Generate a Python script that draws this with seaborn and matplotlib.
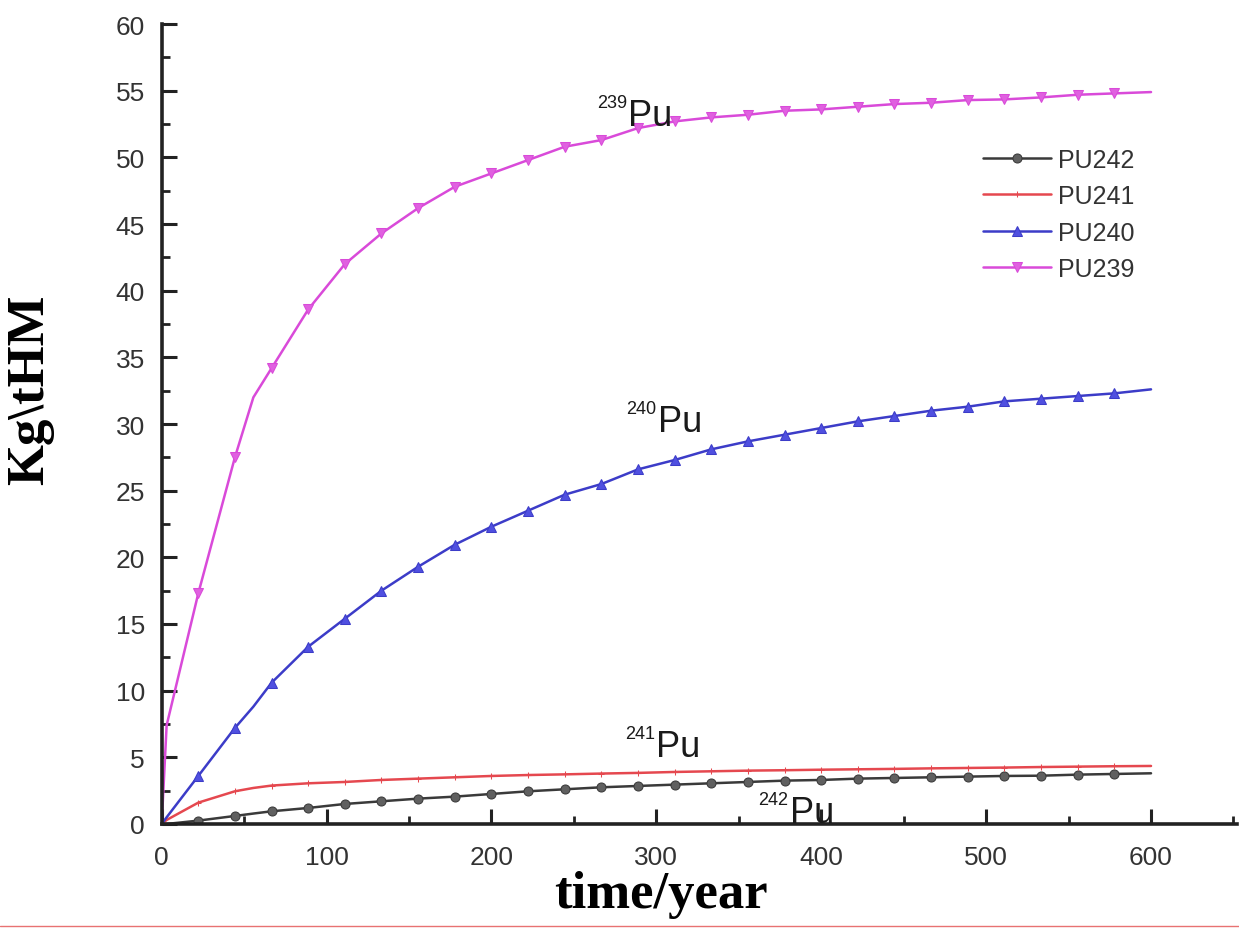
import numpy as np
import pandas as pd
import matplotlib
matplotlib.use("Agg")
import matplotlib.pyplot as plt
from matplotlib.lines import Line2D
import seaborn as sns

# ---------------- data ----------------
time = [0, 3, 22.2, 44.4, 55.6, 66.7, 88.9, 111.1, 133.3, 155.6, 177.8, 200.0,
        222.2, 244.4, 266.7, 288.9, 311.1, 333.3, 355.6, 377.8, 400.0, 422.2,
        444.4, 466.7, 488.9, 511.1, 533.3, 555.6, 577.8, 600.0]

pu239 = [0, 7.4, 17.3, 27.5, 32.0, 34.2, 38.6, 42.0, 44.3, 46.2, 47.8, 48.8,
         49.8, 50.8, 51.3, 52.2, 52.7, 53.0, 53.2, 53.5, 53.6, 53.8,
         54.0, 54.1, 54.3, 54.35, 54.5, 54.7, 54.8, 54.9]
pu240 = [0, 0.5, 3.6, 7.2, 8.8, 10.6, 13.3, 15.4, 17.5, 19.3, 20.95, 22.3,
         23.5, 24.7, 25.5, 26.6, 27.3, 28.1, 28.7, 29.2, 29.7, 30.2,
         30.6, 31.0, 31.3, 31.7, 31.9, 32.1, 32.3, 32.6]
pu241 = [0, 0.3, 1.6, 2.45, 2.7, 2.88, 3.05, 3.15, 3.3, 3.4, 3.5, 3.6,
         3.67, 3.72, 3.78, 3.83, 3.9, 3.95, 4.0, 4.03, 4.07, 4.1,
         4.13, 4.17, 4.2, 4.23, 4.27, 4.3, 4.33, 4.35]
pu242 = [0, 0.0, 0.25, 0.6, 0.78, 0.95, 1.2, 1.5, 1.7, 1.9, 2.05, 2.25,
         2.45, 2.6, 2.75, 2.85, 2.95, 3.05, 3.15, 3.25, 3.3, 3.4,
         3.45, 3.5, 3.55, 3.6, 3.62, 3.7, 3.75, 3.8]

series_names = ["PU242", "PU241", "PU240", "PU239"]
mass_numbers = ["242", "241", "240", "239"]
label_pos = [(381, 0.15), (300, 5.1), (301, 29.5), (283, 52.4)]

x_ticks = [0, 100, 200, 300, 400, 500, 600]
y_ticks = [0, 5, 10, 15, 20, 25, 30, 35, 40, 45, 50, 55, 60]

# ---------------- style ----------------
sns.set_theme(style="white")
plt.rcParams["font.family"] = ["Liberation Sans", "DejaVu Sans"]

fig = plt.figure(figsize=(12.39, 9.29), dpi=100)
ax = fig.add_axes([0.1305, 0.112, 0.8677, 0.861])

df = pd.DataFrame({"time": time, "PU239": pu239, "PU240": pu240,
                   "PU241": pu241, "PU242": pu242})
mark_idx = [i for i, t in enumerate(time) if t not in (0, 3, 55.6, 600.0)]

styles = {
    "PU242": dict(color="#3a3a3a", marker="o", markersize=6.5,
                  markerfacecolor="#606060", markeredgecolor="#3a3a3a"),
    "PU241": dict(color="#e5484f", marker="+", markersize=4,
                  markerfacecolor="#e5484f", markeredgecolor="#e5484f"),
    "PU240": dict(color="#3c3cc8", marker="^", markersize=7,
                  markerfacecolor="#5050e0", markeredgecolor="#3c3cc8"),
    "PU239": dict(color="#d94ad9", marker="v", markersize=7,
                  markerfacecolor="#e060e0", markeredgecolor="#d94ad9"),
}

for name in series_names:
    sns.lineplot(data=df, x="time", y=name, ax=ax, linewidth=1.8,
                 markevery=mark_idx, label=name, **styles[name])

# curve annotations: small mass number + "Pu"
for mass, (tx, ty) in zip(mass_numbers, label_pos):
    ax.annotate("Pu", (tx, ty), fontsize=26, color="#1a1a1a",
                ha="left", va="baseline")
    ax.annotate(mass, (tx, ty), xytext=(-1, 13), textcoords="offset points",
                fontsize=13, color="#1a1a1a", ha="right", va="baseline")

# axes
ax.set_xlim(0, 652)
ax.set_ylim(0, 60)
ax.set_xticks(x_ticks)
ax.set_yticks(y_ticks)
ax.set_xticks(np.arange(50, 651, 100), minor=True)
ax.set_yticks(np.arange(2.5, 60, 5), minor=True)
for s in ["top", "right"]:
    ax.spines[s].set_visible(False)
for s in ["left", "bottom"]:
    ax.spines[s].set_linewidth(2.6)
    ax.spines[s].set_color("#222222")
ax.tick_params(axis="both", which="major", direction="in", length=11, width=2.2,
               color="#222222", labelsize=19, labelcolor="#333333",
               left=True, bottom=True)
ax.tick_params(axis="y", which="major", pad=12)
ax.tick_params(axis="x", which="major", pad=15)
ax.tick_params(axis="both", which="minor", direction="in", length=6, width=2.0,
               color="#222222", left=True, bottom=True)

ax.set_xlabel("time/year", fontsize=38, fontweight="bold",
              family=["Liberation Serif", "DejaVu Serif"], color="black")
ax.set_ylabel("Kg\\tHM", fontsize=38, fontweight="bold",
              family=["Liberation Serif", "DejaVu Serif"], color="black")
ax.xaxis.set_label_coords(0.464, -0.058)
ax.yaxis.set_label_coords(-0.1, 0.544)

# legend
handles, labels = ax.get_legend_handles_labels()
order = [labels.index(n) for n in series_names]
leg = ax.legend([handles[i] for i in order], [labels[i] for i in order],
                loc="upper left", bbox_to_anchor=(0.7934, 0.840),
                bbox_transform=fig.transFigure, frameon=False, fontsize=18,
                handlelength=2.7, handletextpad=0.3, labelspacing=0.5,
                borderaxespad=0, borderpad=0)
for t in leg.get_texts():
    t.set_color("#333333")

# thin red rule at the very bottom of the picture
fig.add_artist(Line2D([0, 1], [0.0025, 0.0025], transform=fig.transFigure,
                      color="#e87272", linewidth=1.0))

fig.savefig("out.png", dpi=100, facecolor="white")
